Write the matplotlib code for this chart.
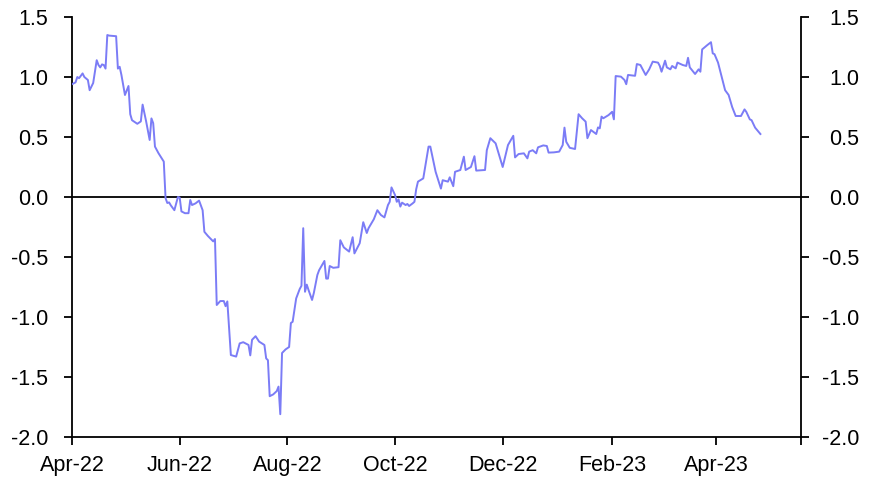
import numpy as np
import pandas as pd
import matplotlib
matplotlib.use('Agg')
import matplotlib.pyplot as plt
import matplotlib.dates as mdates
import matplotlib.transforms as mtransforms

plt.rcParams['font.family'] = ['Liberation Sans', 'DejaVu Sans']

# series
dates = [
	'2022-04-01', '2022-04-03', '2022-04-04', '2022-04-05', '2022-04-07', '2022-04-08',
	'2022-04-10', '2022-04-11', '2022-04-13', '2022-04-15', '2022-04-16', '2022-04-17',
	'2022-04-18', '2022-04-19', '2022-04-20', '2022-04-21', '2022-04-22', '2022-04-26',
	'2022-04-27', '2022-04-28', '2022-04-29', '2022-05-01', '2022-05-03', '2022-05-04',
	'2022-05-05', '2022-05-08', '2022-05-10', '2022-05-11', '2022-05-13', '2022-05-15',
	'2022-05-16', '2022-05-17', '2022-05-18', '2022-05-20', '2022-05-23', '2022-05-24',
	'2022-05-25', '2022-05-26', '2022-05-27', '2022-05-29', '2022-05-31', '2022-06-01',
	'2022-06-02', '2022-06-04', '2022-06-06', '2022-06-07', '2022-06-08', '2022-06-10',
	'2022-06-12', '2022-06-14', '2022-06-15', '2022-06-17', '2022-06-20', '2022-06-21',
	'2022-06-22', '2022-06-24', '2022-06-26', '2022-06-27', '2022-06-28', '2022-06-30',
	'2022-07-03', '2022-07-05', '2022-07-07', '2022-07-10', '2022-07-11', '2022-07-12',
	'2022-07-14', '2022-07-16', '2022-07-19', '2022-07-20', '2022-07-21', '2022-07-22',
	'2022-07-24', '2022-07-26', '2022-07-27', '2022-07-28', '2022-07-29', '2022-07-31',
	'2022-08-02', '2022-08-03', '2022-08-04', '2022-08-06', '2022-08-08', '2022-08-09',
	'2022-08-10', '2022-08-11', '2022-08-12', '2022-08-13', '2022-08-15', '2022-08-16',
	'2022-08-18', '2022-08-19', '2022-08-22', '2022-08-23', '2022-08-24', '2022-08-25',
	'2022-08-27', '2022-08-30', '2022-08-31', '2022-09-02', '2022-09-05', '2022-09-07',
	'2022-09-08', '2022-09-11', '2022-09-13', '2022-09-15', '2022-09-16', '2022-09-19',
	'2022-09-21', '2022-09-23', '2022-09-25', '2022-09-27', '2022-09-28', '2022-09-29',
	'2022-10-01', '2022-10-02', '2022-10-03', '2022-10-04', '2022-10-05', '2022-10-07',
	'2022-10-08', '2022-10-09', '2022-10-11', '2022-10-12', '2022-10-13', '2022-10-14',
	'2022-10-17', '2022-10-20', '2022-10-21', '2022-10-24', '2022-10-27', '2022-10-28',
	'2022-10-31', '2022-11-01', '2022-11-03', '2022-11-04', '2022-11-07', '2022-11-09',
	'2022-11-10', '2022-11-13', '2022-11-15', '2022-11-16', '2022-11-21', '2022-11-22',
	'2022-11-24', '2022-11-27', '2022-12-01', '2022-12-04', '2022-12-07', '2022-12-08',
	'2022-12-10', '2022-12-13', '2022-12-15', '2022-12-16', '2022-12-18', '2022-12-20',
	'2022-12-21', '2022-12-24', '2022-12-26', '2022-12-27', '2022-12-30', '2023-01-02',
	'2023-01-04', '2023-01-05', '2023-01-06', '2023-01-08', '2023-01-11', '2023-01-13',
	'2023-01-15', '2023-01-17', '2023-01-18', '2023-01-20', '2023-01-23', '2023-01-24',
	'2023-01-25', '2023-01-26', '2023-01-27', '2023-01-30', '2023-02-01', '2023-02-02',
	'2023-02-03', '2023-02-06', '2023-02-08', '2023-02-09', '2023-02-10', '2023-02-14',
	'2023-02-15', '2023-02-17', '2023-02-20', '2023-02-22', '2023-02-24', '2023-02-27',
	'2023-02-28', '2023-03-01', '2023-03-03', '2023-03-04', '2023-03-06', '2023-03-07',
	'2023-03-09', '2023-03-10', '2023-03-13', '2023-03-15', '2023-03-16', '2023-03-17',
	'2023-03-20', '2023-03-22', '2023-03-23', '2023-03-24', '2023-03-27', '2023-03-29',
	'2023-03-30', '2023-03-31', '2023-04-02', '2023-04-06', '2023-04-08', '2023-04-10',
	'2023-04-12', '2023-04-15', '2023-04-17', '2023-04-18', '2023-04-20', '2023-04-21',
	'2023-04-23', '2023-04-26',
]
values = [
	0.94, 0.955, 1.00, 0.99, 1.03, 1.00,
	0.975, 0.89, 0.95, 1.14, 1.10, 1.08,
	1.105, 1.10, 1.07, 1.35, 1.345, 1.34,
	1.07, 1.085, 1.017, 0.85, 0.925, 0.69,
	0.64, 0.61, 0.63, 0.77, 0.63, 0.475,
	0.655, 0.615, 0.42, 0.365, 0.295, -0.01,
	-0.05, -0.045, -0.07, -0.11, 0.00, -0.005,
	-0.12, -0.135, -0.135, -0.025, -0.067, -0.053,
	-0.03, -0.11, -0.29, -0.325, -0.37, -0.35,
	-0.90, -0.867, -0.867, -0.91, -0.87, -1.317,
	-1.33, -1.22, -1.21, -1.233, -1.32, -1.19,
	-1.16, -1.205, -1.233, -1.345, -1.36, -1.66,
	-1.645, -1.617, -1.58, -1.81, -1.30, -1.27,
	-1.25, -1.05, -1.04, -0.845, -0.767, -0.74,
	-0.26, -0.79, -0.73, -0.775, -0.858, -0.80,
	-0.65, -0.61, -0.533, -0.68, -0.68, -0.575,
	-0.59, -0.585, -0.36, -0.42, -0.455, -0.335,
	-0.47, -0.385, -0.21, -0.30, -0.26, -0.185,
	-0.11, -0.15, -0.17, -0.067, -0.04, 0.08,
	0.017, -0.04, -0.02, -0.08, -0.047, -0.067,
	-0.058, -0.075, -0.053, -0.04, 0.065, 0.128,
	0.155, 0.42, 0.42, 0.21, 0.07, 0.14,
	0.128, 0.164, 0.09, 0.21, 0.225, 0.336,
	0.225, 0.25, 0.34, 0.22, 0.225, 0.39,
	0.49, 0.447, 0.25, 0.433, 0.51, 0.33,
	0.358, 0.364, 0.322, 0.378, 0.39, 0.364,
	0.414, 0.43, 0.425, 0.37, 0.372, 0.378,
	0.433, 0.578, 0.46, 0.41, 0.40, 0.69,
	0.656, 0.628, 0.49, 0.558, 0.525, 0.58,
	0.572, 0.67, 0.656, 0.683, 0.71, 0.647,
	1.008, 1.003, 0.975, 0.94, 1.017, 1.01,
	1.108, 1.10, 1.017, 1.064, 1.128, 1.12,
	1.092, 1.044, 1.136, 1.08, 1.064, 1.092,
	1.072, 1.12, 1.10, 1.092, 1.16, 1.08,
	1.025, 1.064, 1.044, 1.23, 1.267, 1.29,
	1.197, 1.19, 1.12, 0.89, 0.85, 0.75,
	0.675, 0.675, 0.73, 0.71, 0.647, 0.64,
	0.578, 0.525,
]

xTicks = ['2022-04-01', '2022-06-01', '2022-08-01', '2022-10-01',
	'2022-12-01', '2023-02-01', '2023-04-01']
xStart = '2022-04-01'
xEnd = '2023-05-19'
yTicks = [-2.0, -1.5, -1.0, -0.5, 0.0, 0.5, 1.0, 1.5]

lineColor = '#7b7cf6'
fontSize = 15.5

fig = plt.figure(figsize=(8.73, 4.82), dpi=100)
ax = fig.add_axes([72/873, 1-437/482, (801-72)/873, (437-17)/482])

x = pd.to_datetime(dates)
ax.plot(x, values, '-', color=lineColor, linewidth=1.4, zorder=3)
ax.axhline(0, color='k', linewidth=1.3, zorder=2)

ax.set_xlim(pd.Timestamp(xStart), pd.Timestamp(xEnd))
ax.set_ylim(-2.0, 1.5)

ax.set_xticks(pd.to_datetime(xTicks))
ax.xaxis.set_major_formatter(mdates.DateFormatter('%b-%y'))
ax.set_xticks([pd.Timestamp(xEnd)], minor=True)

ax.set_yticks(yTicks)
ax.set_yticklabels(['%.1f' % v for v in yTicks])

ax.spines['top'].set_visible(False)
for s in ['left', 'right', 'bottom']:
	ax.spines[s].set_linewidth(1.3)

ax.tick_params(axis='y', which='both', direction='out', length=6, width=1.3,
	labelsize=fontSize, left=True, right=True, labelleft=True, labelright=True, pad=11)
ax.tick_params(axis='x', which='both', direction='out', length=6, width=1.3,
	labelsize=fontSize, pad=7)

# right-hand labels are right-aligned in the reference
offset = mtransforms.ScaledTranslation(25/72, 0, fig.dpi_scale_trans)
for t in ax.yaxis.get_major_ticks():
	t.label2.set_horizontalalignment('right')
	t.label2.set_transform(t.label2.get_transform() + offset)

fig.savefig('out.png', dpi=100)
